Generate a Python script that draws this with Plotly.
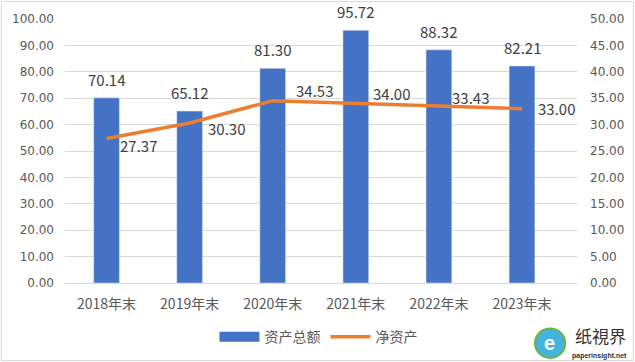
import plotly.graph_objects as go

categories = ["2018年末", "2019年末", "2020年末", "2021年末", "2022年末", "2023年末"]
total_assets = [70.14, 65.12, 81.30, 95.72, 88.32, 82.21]
net_assets = [27.37, 30.30, 34.53, 34.00, 33.43, 33.00]
left_ticks = [0, 10, 20, 30, 40, 50, 60, 70, 80, 90, 100]
right_ticks = [0, 5, 10, 15, 20, 25, 30, 35, 40, 45, 50]

# label placement (pixels) for the net-asset labels, as placed in the reference
line_label_dx = [13, 18, 23, 17, 13, 16]
line_label_dy = [-7, -5, 10, 10, 9, 0]

BLUE = "#4472C4"
ORANGE = "#ED7D31"
TXT = "#404040"
AX = "#595959"
FONT = "Noto Sans CJK SC"
TICKFONT = "DejaVu Sans"

fig = go.Figure()
fig.add_trace(go.Bar(
    x=categories, y=total_assets, name="资产总额", marker_color=BLUE,
    width=0.31, showlegend=False, yaxis="y",
))
# legend proxy for bars (wide flat swatch like the reference)
fig.add_trace(go.Scatter(
    x=[None], y=[None], mode="lines", name="资产总额",
    line=dict(color=BLUE, width=10), yaxis="y", showlegend=True,
))
fig.add_trace(go.Scatter(
    x=categories, y=net_assets, name="净资产", mode="lines",
    line=dict(color=ORANGE, width=3.5), yaxis="y2",
))

annotations = []
for c, v in zip(categories, total_assets):
    annotations.append(dict(
        x=c, y=v, xref="x", yref="y", text=f"{v:.2f}", showarrow=False,
        yanchor="bottom", yshift=6, font=dict(size=15, color=TXT, family=FONT),
    ))
for c, v, dx, dy in zip(categories, net_assets, line_label_dx, line_label_dy):
    annotations.append(dict(
        x=c, y=v, xref="x", yref="y2", text=f"{v:.2f}", showarrow=False,
        xanchor="left", yanchor="middle", xshift=dx - 2, yshift=dy,
        font=dict(size=15, color=TXT, family=FONT),
    ))

# watermark
annotations.append(dict(xref="paper", yref="paper", x=1.045, y=-0.198, text="纸視界",
                        showarrow=False, font=dict(size=17, color="#333333", family=FONT),
                        xanchor="center", yanchor="middle"))
annotations.append(dict(xref="paper", yref="paper", x=1.043, y=-0.276, text="<b>paperinsight.net</b>",
                        showarrow=False, font=dict(size=7, color="#333333", family="Liberation Sans"),
                        xanchor="center", yanchor="middle"))
annotations.append(dict(xref="paper", yref="paper", x=0.947, y=-0.228, text="<b>e</b>",
                        showarrow=False, font=dict(size=20, color="white", family="Liberation Sans"),
                        xanchor="center", yanchor="middle"))

shapes = [
    dict(type="rect", xref="paper", yref="paper", x0=-0.124, x1=1.110, y0=-0.2936, y1=1.066,
         line=dict(color="#D9D9D9", width=1), fillcolor="rgba(0,0,0,0)", layer="below"),
    dict(type="circle", xref="paper", yref="paper", x0=0.918, x1=0.977, y0=-0.284, y1=-0.172,
         line=dict(color="#6DB33F", width=2), fillcolor="#45B3E0"),
]

fig.update_layout(
    width=635, height=362,
    margin=dict(l=65, r=58, t=19, b=79, autoexpand=False),
    paper_bgcolor="white", plot_bgcolor="white",
    font=dict(family=FONT, color=AX, size=13),
    bargap=0.69,
    xaxis=dict(
        type="category", showgrid=False, showline=True, linecolor="#D9D9D9", linewidth=1,
        ticks="", tickfont=dict(size=14, color=AX, family=FONT), ticklabelstandoff=8,
    ),
    yaxis=dict(
        range=[0, 100], tickvals=left_ticks, ticktext=[f"{t:.2f}" for t in left_ticks],
        showgrid=True, gridcolor="#D9D9D9", gridwidth=1, zeroline=False, showline=False,
        ticks="", tickfont=dict(size=12, color=AX, family=TICKFONT), ticklabelstandoff=10,
    ),
    yaxis2=dict(
        range=[0, 50], tickvals=right_ticks, ticktext=[f"{t:.2f}" for t in right_ticks],
        overlaying="y", side="right", showgrid=False, zeroline=False, showline=False,
        ticks="", tickfont=dict(size=12, color=AX, family=TICKFONT), ticklabelstandoff=12,
    ),
    legend=dict(
        orientation="h", x=0.495, xanchor="center", y=-0.205, yanchor="middle",
        font=dict(size=14, color=AX, family=FONT), bgcolor="rgba(0,0,0,0)",
        itemwidth=40, traceorder="normal",
    ),
    annotations=annotations,
    shapes=shapes,
)

fig.write_html(
    "out.html",
    config={"displayModeBar": False},
    post_script="document.body.style.margin='0';document.body.style.padding='0';",
)
